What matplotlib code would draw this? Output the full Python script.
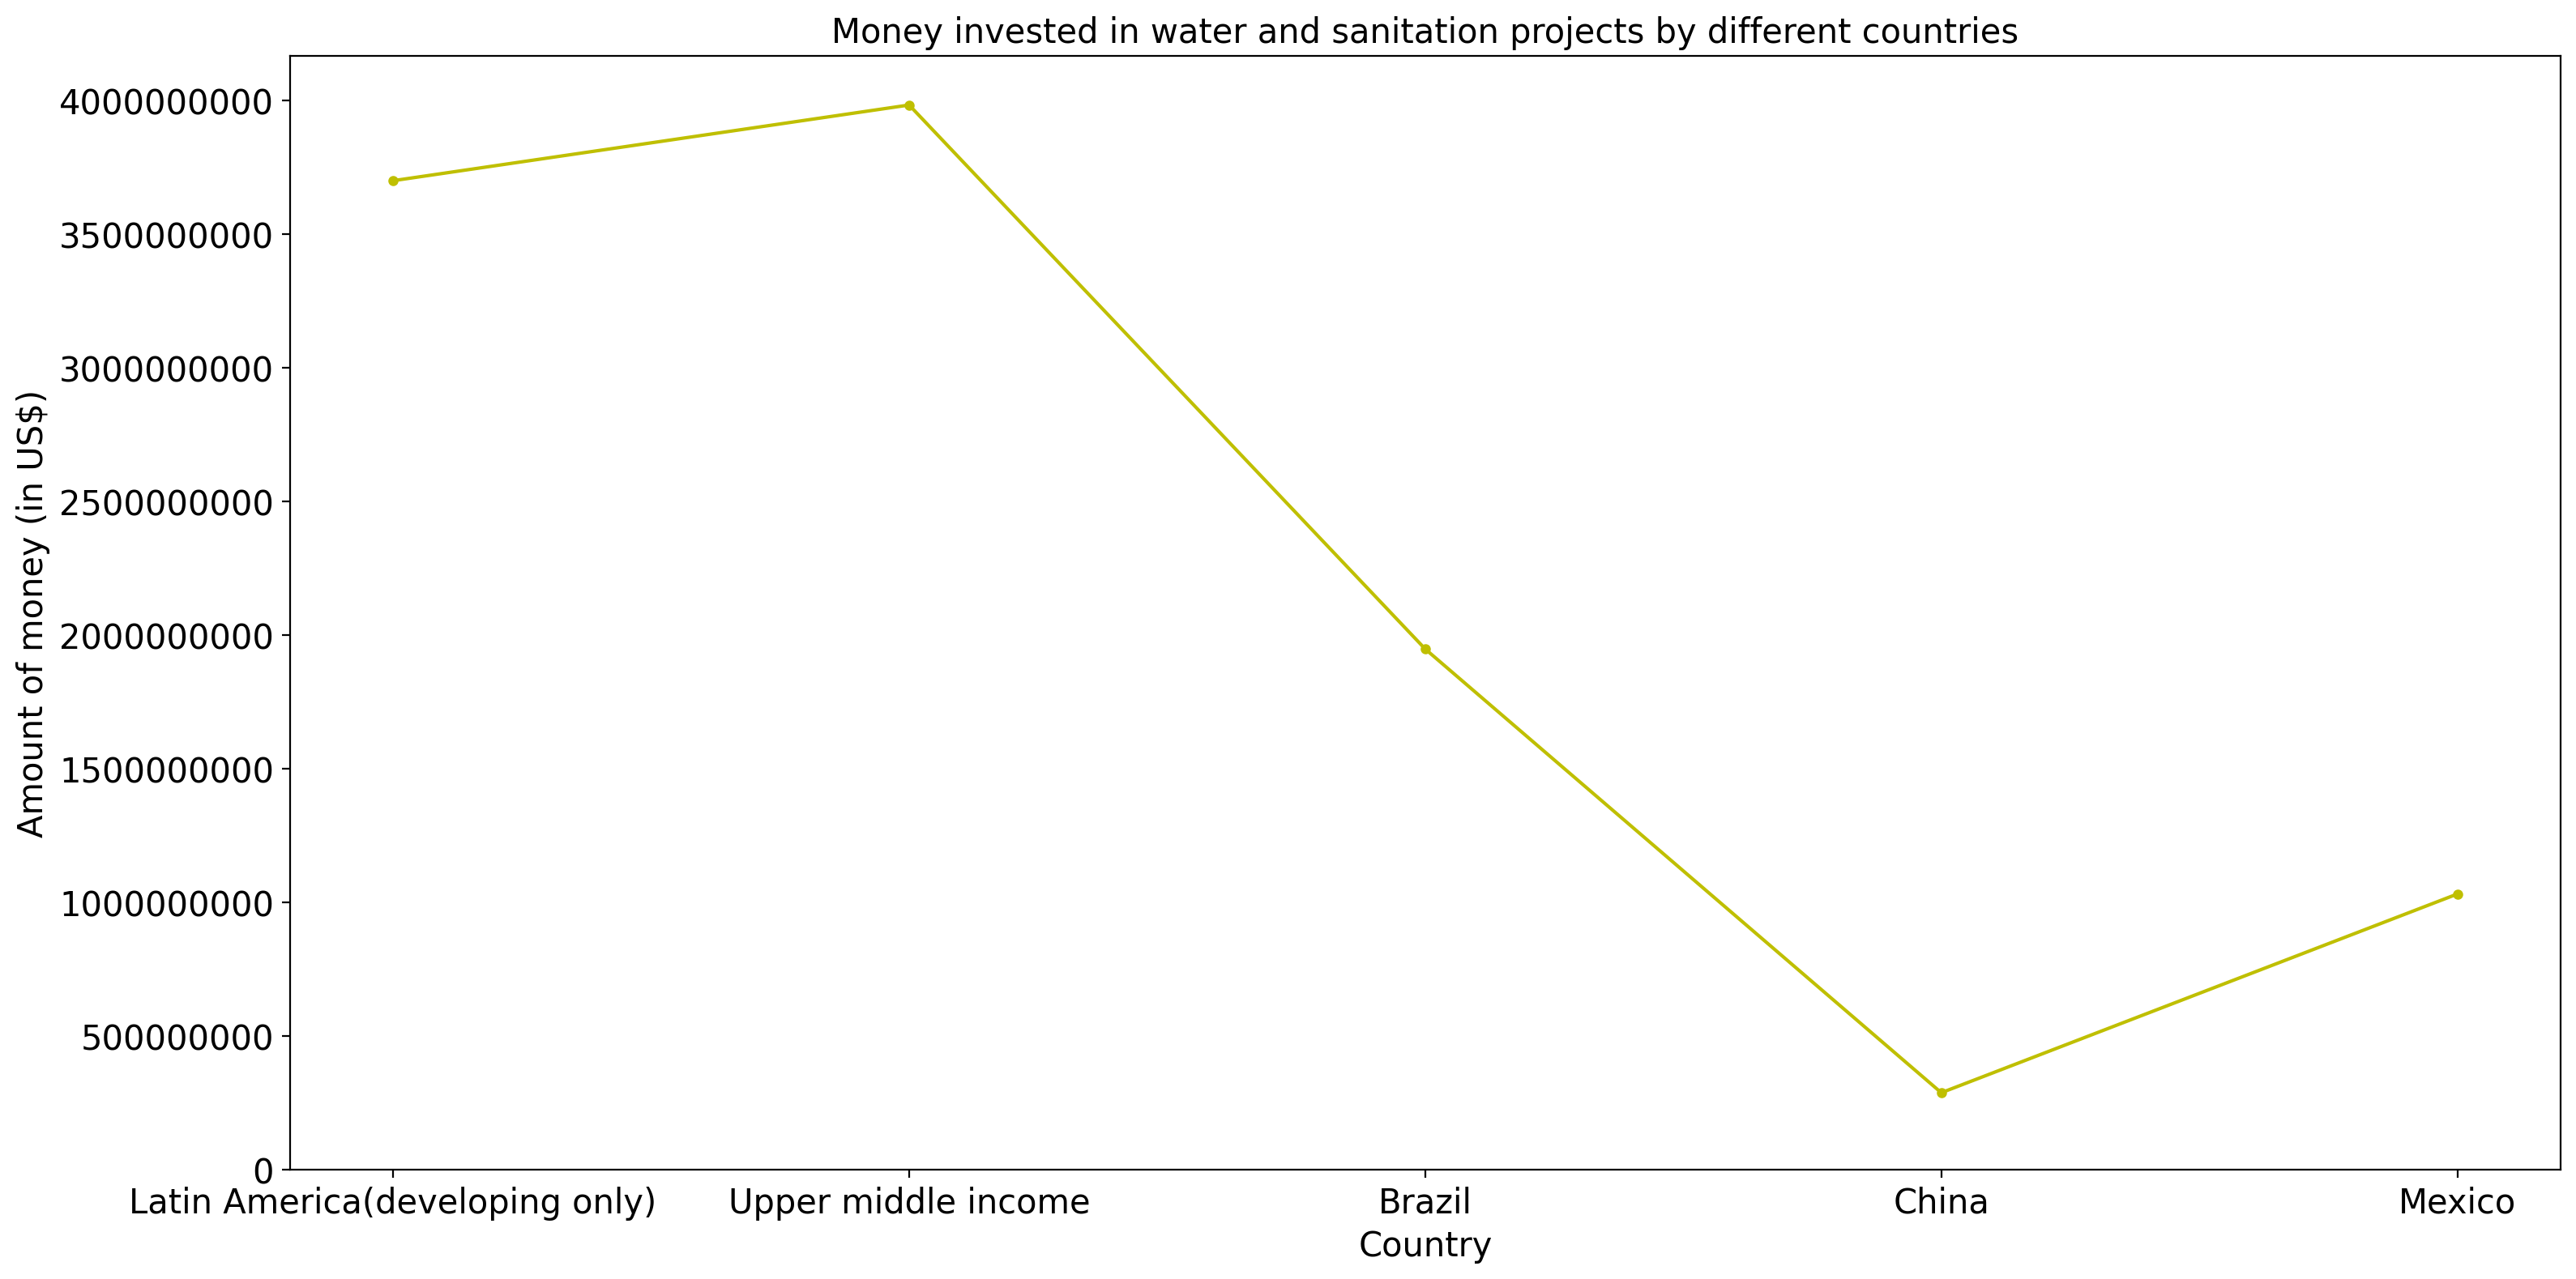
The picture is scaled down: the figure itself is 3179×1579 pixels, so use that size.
import matplotlib
matplotlib.use("Agg")
import matplotlib.pyplot as plt

countries = ['Latin America(developing only)', 'Upper middle income', 'Brazil', 'China', 'Mexico']
amounts = [3699000000, 3982000000, 1948000000, 289000000, 1032000000]

fig, ax = plt.subplots(figsize=(16, 8), dpi=200)
ax.plot(countries, amounts, color='y', marker='.', markersize=7)
ax.set_ylim(bottom=0)
ax.ticklabel_format(axis='y', style='plain')
ax.tick_params(labelsize=15)
ax.set_xlabel('Country', fontsize=15)
ax.set_ylabel('Amount of money (in US$)', fontsize=15)
ax.set_title('Money invested in water and sanitation projects by different countries', fontsize=15)
plt.tight_layout()
plt.savefig('out.png', bbox_inches='tight')
